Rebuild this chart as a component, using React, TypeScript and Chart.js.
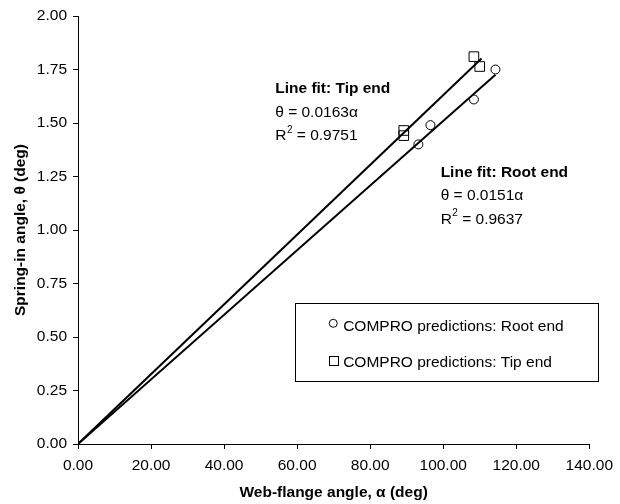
import React, { useEffect, useRef } from "react";
import { Chart, registerables } from "chart.js";

Chart.register(...registerables);

// ---- data ----
const rootAlpha = [93.2, 96.5, 108.4, 114.3];
const rootTheta = [1.4, 1.49, 1.61, 1.75];
const tipAlpha = [89.2, 89.2, 108.4, 110.0];
const tipTheta = [1.465, 1.441, 1.81, 1.764];

const rootFitAlpha = [0, 114.3];
const rootFitTheta = [0, 1.726];
const tipFitAlpha = [0, 110.5];
const tipFitTheta = [0, 1.801];

const xTicks = [0, 20, 40, 60, 80, 100, 120, 140];
const yTicks = [0, 0.25, 0.5, 0.75, 1.0, 1.25, 1.5, 1.75, 2.0];

const tipFitText = ["Line fit: Tip end", "θ = 0.0163α", "0.9751"];
const rootFitText = ["Line fit: Root end", "θ = 0.0151α", "0.9637"];
const legendLabels = ["COMPRO predictions: Root end", "COMPRO predictions: Tip end"];

const FONT = "'Liberation Sans', Arial, sans-serif";
const FS = 15.5;

const toPts = (xs: number[], ys: number[]) => xs.map((x, i) => ({ x, y: ys[i] }));

const overlayPlugin = {
  id: "overlay",
  afterDatasetsDraw(chart: any) {
    const { ctx, scales } = chart;
    const xs = scales.x;
    const ys = scales.y;
    ctx.save();
    ctx.fillStyle = "#000";
    ctx.textBaseline = "middle";
    ctx.textAlign = "left";

    const drawFit = (ax: number, ay: number, lines: string[]) => {
      const px = xs.getPixelForValue(ax);
      const py = ys.getPixelForValue(ay);
      const gap = 23.4;
      ctx.font = `bold ${FS}px ${FONT}`;
      ctx.fillText(lines[0], px, py);
      ctx.font = `${FS}px ${FONT}`;
      ctx.fillText(lines[1], px, py + gap);
      const wR = ctx.measureText("R").width;
      ctx.fillText("R", px, py + 2 * gap);
      ctx.font = `10px ${FONT}`;
      ctx.fillText("2", px + wR + 0.5, py + 2 * gap - 6);
      const w2 = ctx.measureText("2").width;
      ctx.font = `${FS}px ${FONT}`;
      ctx.fillText(" = " + lines[2], px + wR + w2 + 0.5, py + 2 * gap);
    };
    drawFit(54.0, 1.658, tipFitText);
    drawFit(99.3, 1.268, rootFitText);

    // legend box
    const l = Math.round(xs.getPixelForValue(59.5)) + 0.5;
    const r = Math.round(xs.getPixelForValue(142.4)) + 0.5;
    const t = Math.round(ys.getPixelForValue(0.66)) + 0.5;
    const b = Math.round(ys.getPixelForValue(0.296)) + 0.5;
    ctx.fillStyle = "#fff";
    ctx.fillRect(l, t, r - l, b - t);
    ctx.strokeStyle = "#000";
    ctx.lineWidth = 1;
    ctx.strokeRect(l, t, r - l, b - t);

    const mx = xs.getPixelForValue(69.9);
    const tx = xs.getPixelForValue(72.6);
    const y1 = ys.getPixelForValue(0.55);
    const y2 = ys.getPixelForValue(0.378);
    ctx.beginPath();
    ctx.arc(mx, y1 - 3, 4, 0, Math.PI * 2);
    ctx.stroke();
    ctx.strokeRect(Math.round(mx - 4.5) + 0.5, Math.round(y2 - 7.5) + 0.5, 9, 9);
    ctx.fillStyle = "#000";
    ctx.font = `${FS}px ${FONT}`;
    ctx.fillText(legendLabels[0], tx, y1);
    ctx.fillText(legendLabels[1], tx, y2);
    ctx.restore();
  },
};

export default function App() {
  const ref = useRef<HTMLCanvasElement | null>(null);
  useEffect(() => {
    if (!ref.current) return;
    const axisCommon = {
      type: "linear" as const,
      grid: {
        display: true,
        drawOnChartArea: false,
        drawTicks: true,
        tickLength: 5,
        color: "#000",
        lineWidth: 1,
      },
      border: { display: true, color: "#000", width: 1 },
    };
    const chart = new Chart(ref.current, {
      type: "scatter",
      data: {
        datasets: [
          {
            type: "line",
            label: "Root fit",
            data: toPts(rootFitAlpha, rootFitTheta),
            borderColor: "#000",
            borderWidth: 2,
            pointRadius: 0,
            fill: false,
          } as any,
          {
            type: "line",
            label: "Tip fit",
            data: toPts(tipFitAlpha, tipFitTheta),
            borderColor: "#000",
            borderWidth: 2,
            pointRadius: 0,
            fill: false,
          } as any,
          {
            label: legendLabels[0],
            data: toPts(rootAlpha, rootTheta),
            pointStyle: "circle",
            pointRadius: 4.5,
            borderColor: "#000",
            borderWidth: 1,
            backgroundColor: "rgba(255,255,255,0)",
          },
          {
            label: legendLabels[1],
            data: toPts(tipAlpha, tipTheta),
            pointStyle: "rect",
            pointRadius: 6.8,
            borderColor: "#000",
            borderWidth: 1,
            backgroundColor: "rgba(255,255,255,0)",
          },
        ],
      },
      options: {
        responsive: false,
        animation: false,
        layout: { padding: { top: 16, right: 24, left: 0, bottom: 0 } },
        plugins: { legend: { display: false }, tooltip: { enabled: false } },
        scales: {
          x: {
            ...axisCommon,
            min: 0,
            max: 140,
            afterBuildTicks: (s: any) => {
              s.ticks = xTicks.map((v) => ({ value: v }));
            },
            afterFit: (s: any) => {
              s.height = 60;
            },
            ticks: {
              color: "#000",
              font: { family: FONT, size: FS },
              padding: 7,
              maxRotation: 0,
              callback: (v: any) => Number(v).toFixed(2),
            },
            title: {
              display: true,
              text: "Web-flange angle, α (deg)",
              color: "#000",
              font: { family: FONT, size: FS, weight: "bold" },
              padding: { top: 0, bottom: 2 },
            },
          },
          y: {
            ...axisCommon,
            min: 0,
            max: 2,
            afterBuildTicks: (s: any) => {
              s.ticks = yTicks.map((v) => ({ value: v }));
            },
            afterFit: (s: any) => {
              s.width = 78;
            },
            ticks: {
              color: "#000",
              font: { family: FONT, size: FS },
              padding: 6,
              callback: (v: any) => Number(v).toFixed(2),
            },
            title: {
              display: true,
              text: "Spring-in angle, θ (deg)",
              color: "#000",
              font: { family: FONT, size: FS, weight: "bold" },
              padding: { top: 11, bottom: 0 },
            },
          },
        },
      },
      plugins: [overlayPlugin],
    } as any);
    return () => chart.destroy();
  }, []);
  return (
    <div style={{ position: "absolute", left: 0, top: 0, width: 620, height: 504, background: "#fff" }}>
      <canvas ref={ref} width={620} height={504} />
    </div>
  );
}
